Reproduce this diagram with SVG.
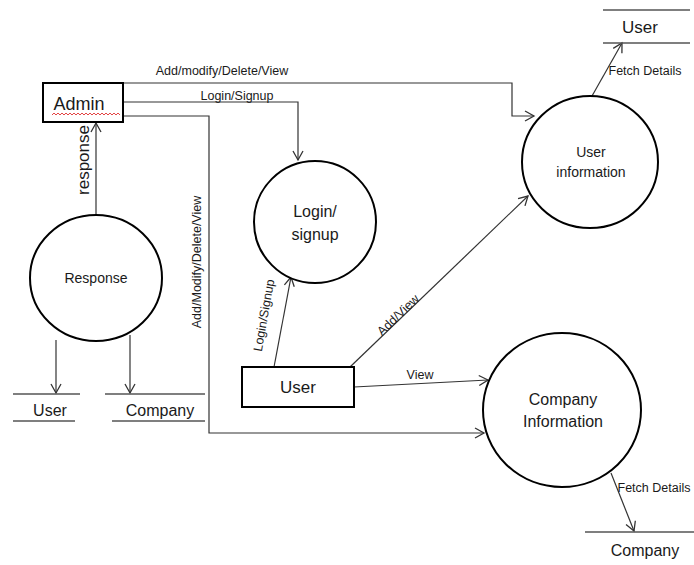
<svg xmlns="http://www.w3.org/2000/svg" width="694" height="565" viewBox="0 0 694 565">
<style>
text{font-family:"Liberation Sans",Arial,sans-serif;fill:#1a1a1a}
.proc{fill:#fff;stroke:#000;stroke-width:2}
.ent{fill:#fff;stroke:#000;stroke-width:2}
.store{stroke:#555;stroke-width:1.5;fill:none}
.con{fill:none;stroke:#333;stroke-width:1.2}
.lbl{font-size:12.5px}
</style>
<defs>
<marker id="arr" markerWidth="12" markerHeight="12" refX="10" refY="6" orient="auto" markerUnits="userSpaceOnUse">
<path d="M1,1 L10,6 L1,11" fill="none" stroke="#333" stroke-width="1.3"/>
</marker>
</defs>

<g id="connectors">
<path class="con" d="M124,83 H512 V116 H534" marker-end="url(#arr)"/>
<path class="con" d="M124,102 H298 V160" marker-end="url(#arr)"/>
<path class="con" d="M124,116 H209 V433 H484" marker-end="url(#arr)"/>
<path class="con" d="M96,215 V123" marker-end="url(#arr)"/>
<path class="con" d="M56,340 V393" marker-end="url(#arr)"/>
<path class="con" d="M130,335 V393" marker-end="url(#arr)"/>
<path class="con" d="M274,367 L291,277" marker-end="url(#arr)"/>
<path class="con" d="M350,367 L528,196" marker-end="url(#arr)"/>
<path class="con" d="M354,387 L488,380" marker-end="url(#arr)"/>
<path class="con" d="M592,96 L622,43" marker-end="url(#arr)"/>
<path class="con" d="M611,473 L634,531" marker-end="url(#arr)"/>
<text class="lbl" x="222" y="75" text-anchor="middle">Add/modify/Delete/View</text>
<text class="lbl" x="237" y="100" text-anchor="middle">Login/Signup</text>
<text class="lbl" transform="translate(201,262) rotate(-90)" text-anchor="middle">Add/Modify/Delete/View</text>
<text transform="translate(89,160) rotate(-90)" text-anchor="middle" font-size="17">response</text>
<text class="lbl" transform="translate(268,316) rotate(-80)" text-anchor="middle">Login/Signup</text>
<text class="lbl" transform="translate(401,318) rotate(-44)" text-anchor="middle">Add/View</text>
<text class="lbl" x="420" y="379" text-anchor="middle">View</text>
<text class="lbl" x="645" y="75" text-anchor="middle">Fetch Details</text>
<text class="lbl" x="654" y="492" text-anchor="middle">Fetch Details</text>
</g>

<g id="admin">
<rect class="ent" x="43" y="83" width="80" height="39"/>
<text x="79" y="110" text-anchor="middle" font-size="18">Admin</text>
<path d="M52,115 l2,-2 l2,2 l2,-2 l2,2 l2,-2 l2,2 l2,-2 l2,2 l2,-2 l2,2 l2,-2 l2,2 l2,-2 l2,2 l2,-2 l2,2 l2,-2 l2,2 l2,-2 l2,2 l2,-2 l2,2 l2,-2 l2,2 l2,-2 l2,2 l2,-2 l2,2 l2,-2 l2,2 l2,-2 l2,2 l2,-2 l2,2" fill="none" stroke="#e03030" stroke-width="0.9"/>
</g>

<g id="response">
<ellipse class="proc" cx="96" cy="278" rx="66" ry="63"/>
<text x="96" y="283" text-anchor="middle" font-size="14">Response</text>
</g>

<g id="store-user-left">
<line class="store" x1="13" y1="394" x2="80" y2="394"/>
<line class="store" x1="13" y1="421" x2="75" y2="421"/>
<text x="50" y="416" text-anchor="middle" font-size="16">User</text>
</g>

<g id="store-company-left">
<line class="store" x1="105" y1="394" x2="205" y2="394"/>
<line class="store" x1="112" y1="421" x2="205" y2="421"/>
<text x="160" y="416" text-anchor="middle" font-size="16">Company</text>
</g>

<g id="login">
<circle class="proc" cx="315" cy="222" r="61"/>
<text x="315" y="217" text-anchor="middle" font-size="16">Login/</text>
<text x="315" y="240" text-anchor="middle" font-size="16">signup</text>
</g>

<g id="user">
<rect class="ent" x="242" y="367" width="112" height="40"/>
<text x="298" y="393" text-anchor="middle" font-size="17">User</text>
</g>

<g id="user-information">
<ellipse class="proc" cx="590" cy="162" rx="68" ry="66"/>
<text x="591" y="157" text-anchor="middle" font-size="14">User</text>
<text x="591" y="177" text-anchor="middle" font-size="14">information</text>
</g>

<g id="store-user-right">
<line class="store" x1="603" y1="10" x2="690" y2="10"/>
<line class="store" x1="603" y1="43" x2="690" y2="43"/>
<text x="640" y="33" text-anchor="middle" font-size="17">User</text>
</g>

<g id="company-information">
<ellipse class="proc" cx="562" cy="410" rx="79" ry="77"/>
<text x="563" y="405" text-anchor="middle" font-size="16">Company</text>
<text x="563" y="427" text-anchor="middle" font-size="16">Information</text>
</g>

<g id="store-company-right">
<line class="store" x1="585" y1="532" x2="694" y2="532"/>
<text x="645" y="556" text-anchor="middle" font-size="16">Company</text>
</g>
</svg>
